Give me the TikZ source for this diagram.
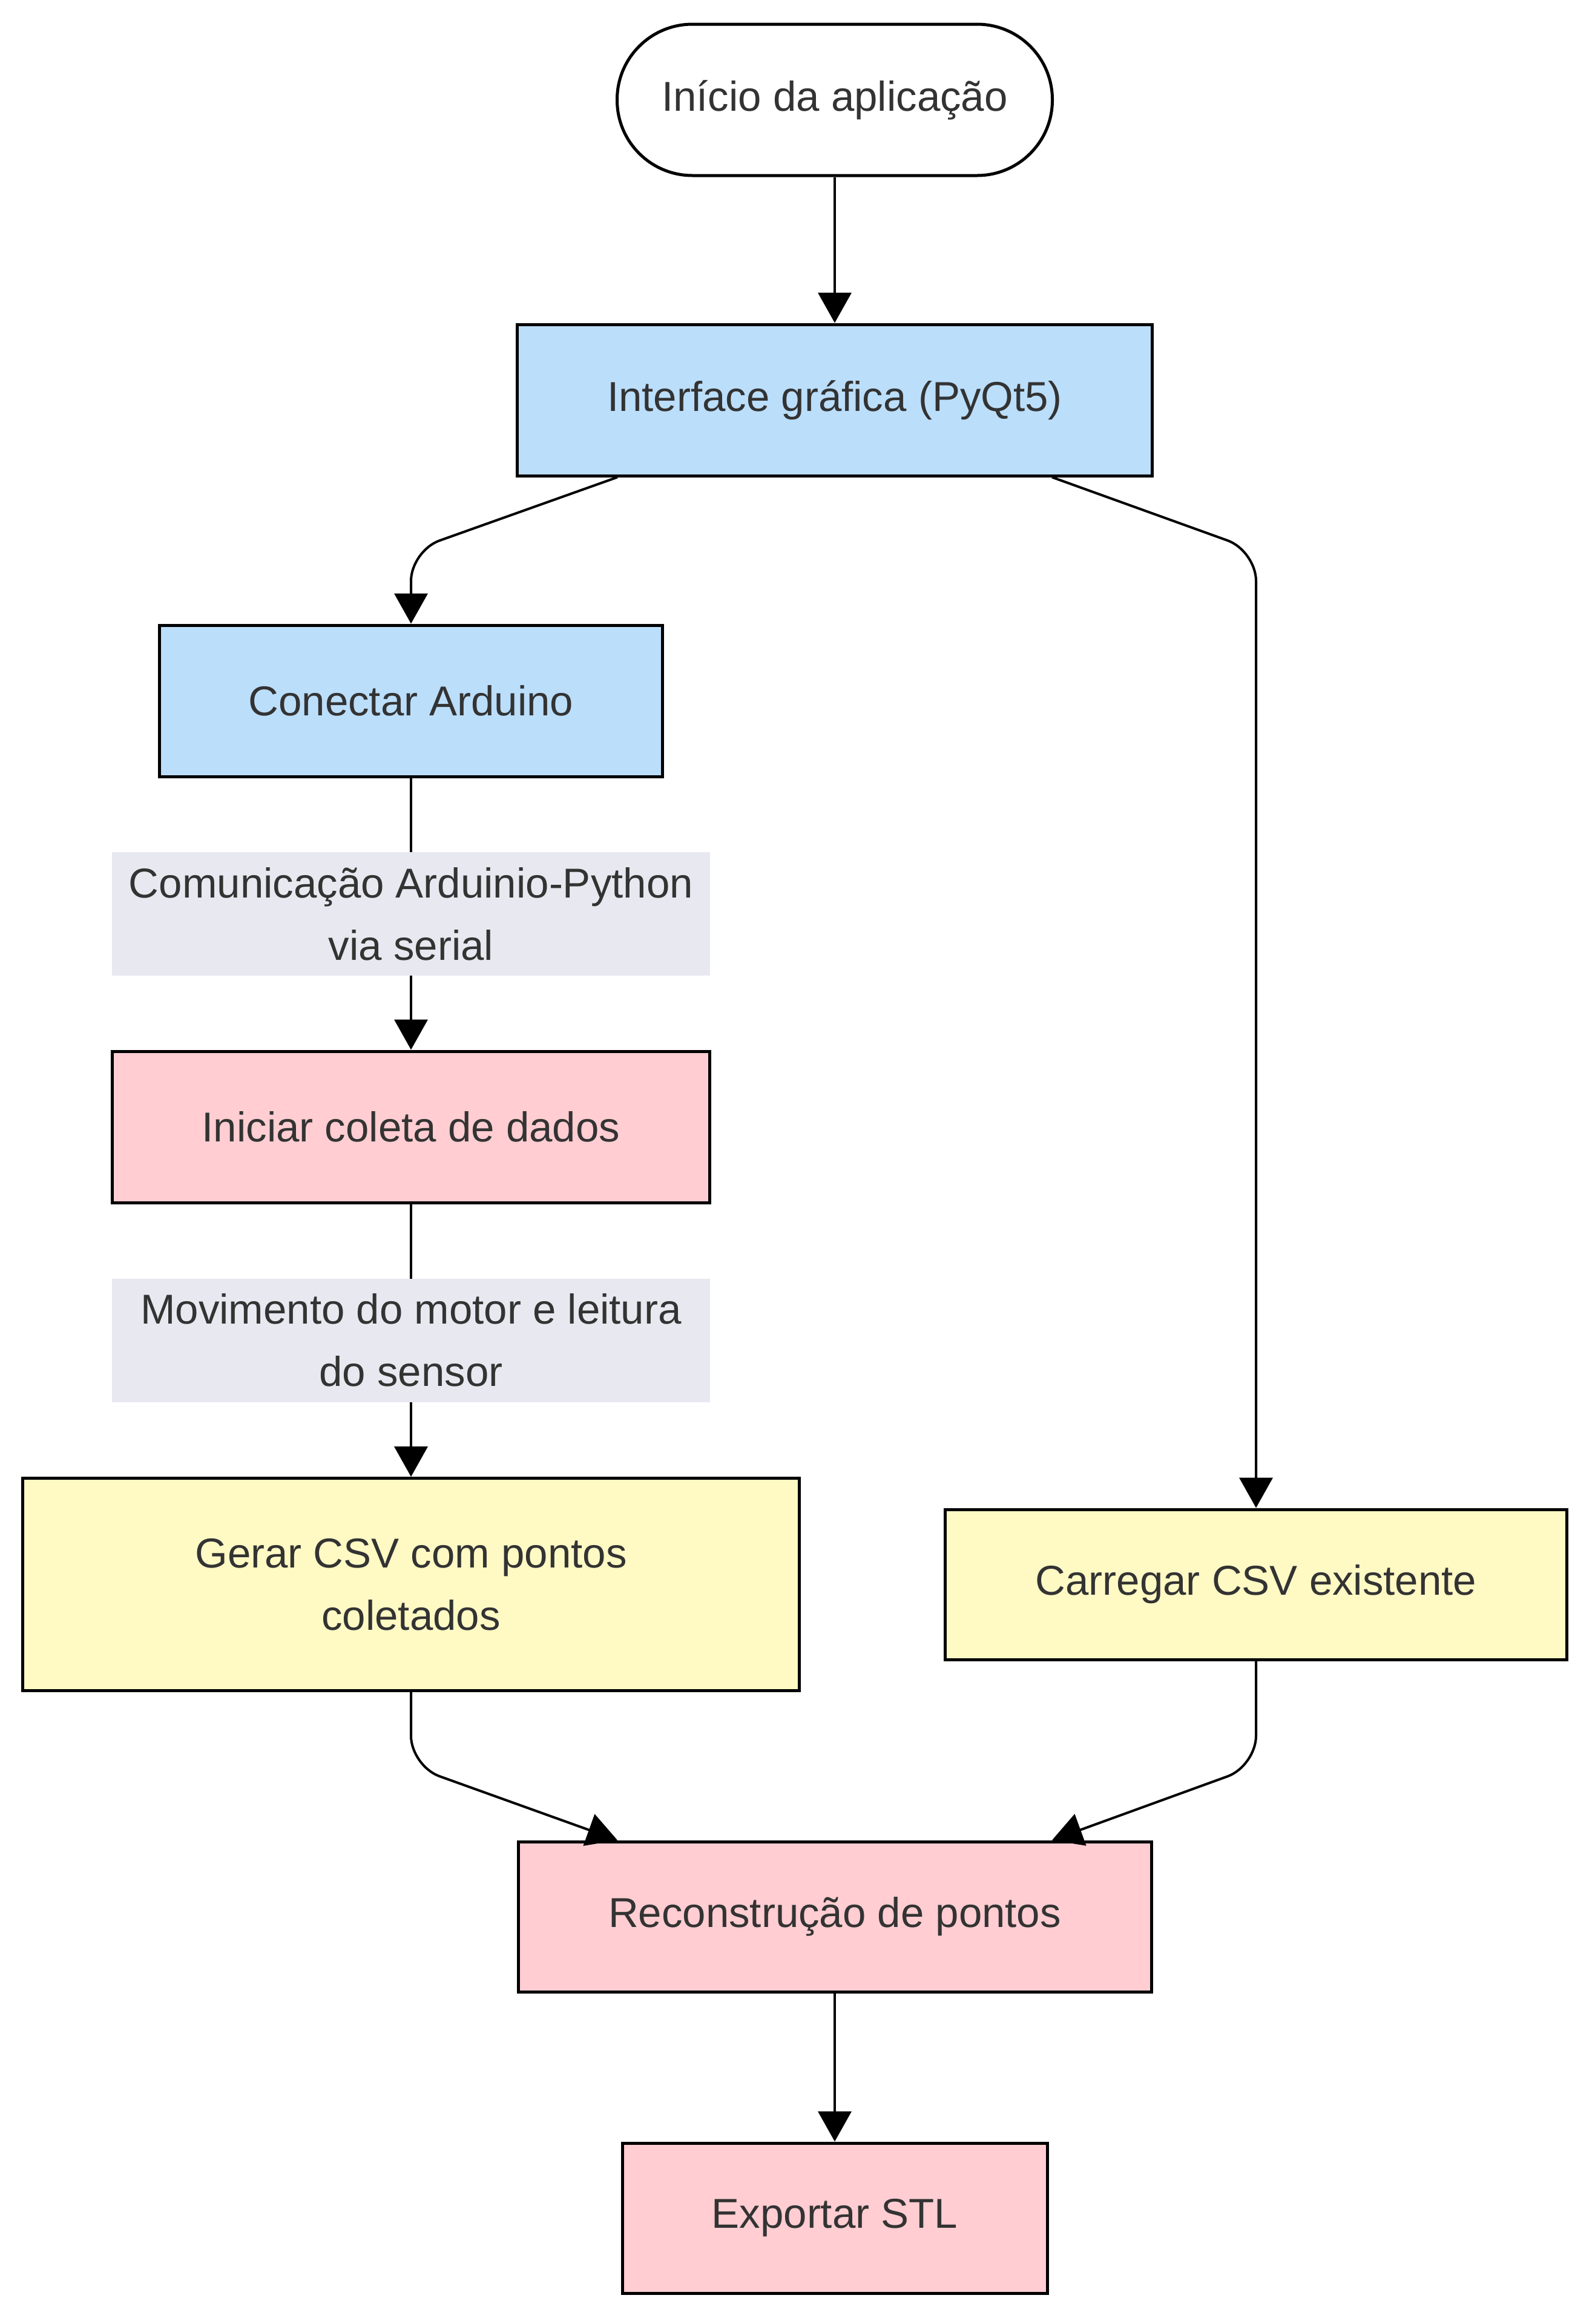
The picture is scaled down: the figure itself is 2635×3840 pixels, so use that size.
\documentclass[tikz,border=0pt]{standalone}
\usepackage{fontspec}
\setmainfont{Liberation Sans}
\usetikzlibrary{arrows.meta}
\definecolor{txt}{HTML}{333333}
\definecolor{cblue}{HTML}{BBDEFB}
\definecolor{cpink}{HTML}{FFCDD2}
\definecolor{cyel}{HTML}{FFF9C4}
\definecolor{clbl}{HTML}{E8E8F0}
\tikzset{
  box/.style={draw=black, line width=1pt, inner sep=0pt, align=center, text=txt,
    font=\fontsize{13.8pt}{20.6pt}\selectfont, minimum height=50pt},
  startbox/.style={box, fill=white, rounded corners=24.9pt},
  bluebox/.style={box, fill=cblue},
  pinkbox/.style={box, fill=cpink},
  yelbox/.style={box, fill=cyel},
  lbl/.style={fill=clbl, sharp corners, inner sep=0pt, align=center, text=txt,
    font=\fontsize{13.8pt}{20.6pt}\selectfont, minimum width=197.4pt, minimum height=40.8pt},
  conn/.style={draw=black, line width=0.8pt, rounded corners=10pt,
    -{Triangle[width=11pt,length=10pt]}}
}
\begin{document}
\begin{tikzpicture}[x=0.2pt,y=-0.2pt]
\useasboundingbox (0,0) rectangle (2635,3840);
\node[startbox, minimum width=143.8pt] (start) at (1379,165) {Início da aplicação};
\node[bluebox, minimum width=209.8pt] (intf) at (1379,661) {Interface gráfica (PyQt5)};
\node[bluebox, minimum width=166pt] (ard) at (679,1158) {Conectar Arduino};
\node[pinkbox, minimum width=197.4pt] (ini) at (679,1862) {Iniciar coleta de dados};
\node[yelbox, minimum width=256.4pt, minimum height=70.2pt] (ger) at (679,2618) {Gerar CSV com pontos\\coletados};
\node[yelbox, minimum width=205.4pt, minimum height=49.6pt] (car) at (2075,2618) {Carregar CSV existente};
\node[pinkbox, minimum width=209.2pt, minimum height=49.6pt] (rec) at (1379,3167) {Reconstrução de pontos};
\node[pinkbox, minimum width=140.4pt, minimum height=49.6pt] (exp) at (1379,3665) {Exportar STL};

\coordinate (c1) at (679,910);
\coordinate (c2) at (2075,910);
\coordinate (c3) at (679,2918);
\coordinate (c4) at (2075,2918);

\draw[conn] (start.south) -- (intf.north);
\draw[conn] ([xshift=-71.8pt]intf.south) -- (c1) -- (ard.north);
\draw[conn] ([xshift=71.8pt]intf.south) -- (c2) -- (car.north);
\draw[conn] (ard.south) -- node[lbl] (l1) {Comunicação Arduinio-Python\\via serial} (ini.north);
\draw[conn] (ini.south) -- node[lbl] (l2) {Movimento do motor e leitura\\do sensor} (ger.north);
\draw[conn] (ger.south) -- (c3) -- ([xshift=-71.8pt]rec.north);
\draw[conn] (car.south) -- (c4) -- ([xshift=71.8pt]rec.north);
\draw[conn] (rec.south) -- (exp.north);
\end{tikzpicture}
\end{document}
